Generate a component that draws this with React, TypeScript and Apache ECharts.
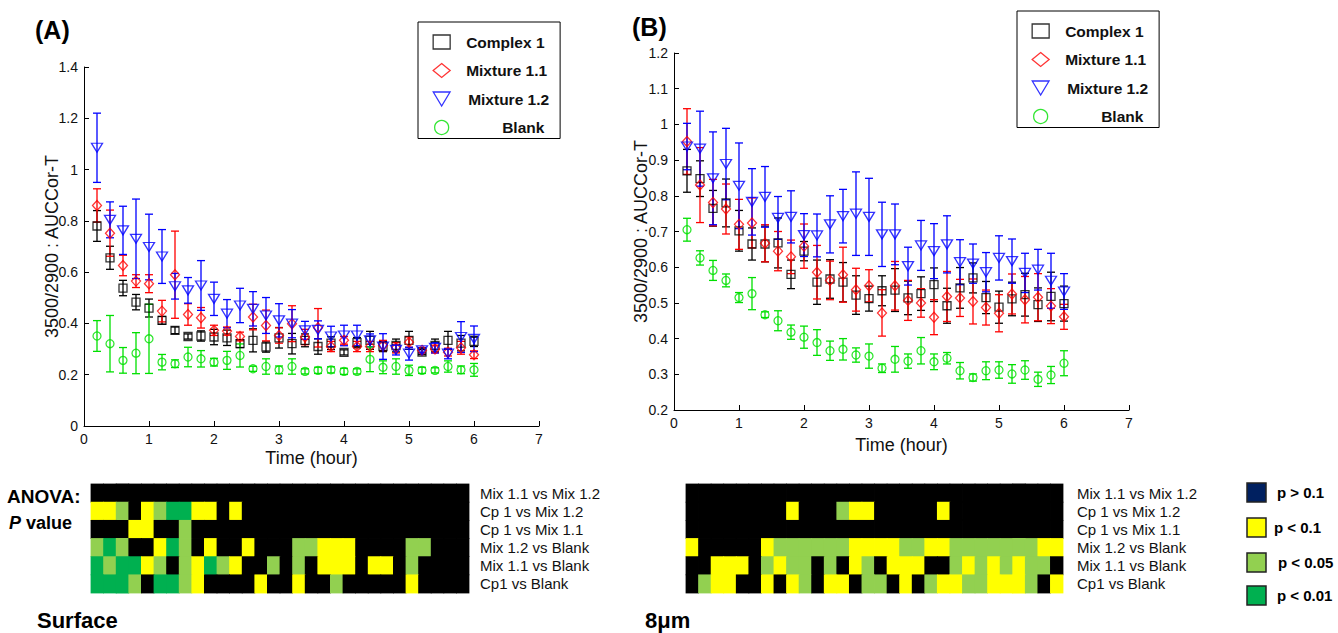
import React, { useEffect, useRef } from "react";
import * as echarts from "echarts";

const FONT = "'Liberation Sans', Arial, Helvetica, sans-serif";

const times = [0.2, 0.4, 0.6, 0.8, 1.0, 1.2, 1.4, 1.6, 1.8, 2.0, 2.2, 2.4, 2.6, 2.8, 3.0, 3.2, 3.4, 3.6, 3.8, 4.0, 4.2, 4.4, 4.6, 4.8, 5.0, 5.2, 5.4, 5.6, 5.8, 6.0];

const seriesNames = ["Complex 1", "Mixture 1.1", "Mixture 1.2", "Blank"];

// Panel A (Surface)
const aComplex = [0.78, 0.656, 0.538, 0.483, 0.46, 0.412, 0.373, 0.349, 0.351, 0.347, 0.344, 0.321, 0.334, 0.308, 0.344, 0.321, 0.334, 0.31, 0.323, 0.287, 0.325, 0.334, 0.31, 0.314, 0.334, 0.288, 0.314, 0.334, 0.323, 0.33];
const aComplexErr = [0.06, 0.045, 0.03, 0.03, 0.035, 0.015, 0.013, 0.01, 0.02, 0.03, 0.03, 0.015, 0.045, 0.02, 0.04, 0.04, 0.025, 0.03, 0.025, 0.01, 0.02, 0.035, 0.02, 0.025, 0.035, 0.01, 0.025, 0.035, 0.03, 0.02];
const aMix11 = [0.86, 0.752, 0.626, 0.565, 0.555, 0.448, 0.59, 0.435, 0.422, 0.373, 0.37, 0.349, 0.425, 0.392, 0.353, 0.399, 0.347, 0.383, 0.31, 0.334, 0.31, 0.31, 0.314, 0.305, 0.327, 0.295, 0.3, 0.288, 0.305, 0.278];
const aMix11Err = [0.065, 0.09, 0.04, 0.025, 0.035, 0.042, 0.17, 0.042, 0.04, 0.02, 0.016, 0.017, 0.05, 0.06, 0.03, 0.07, 0.03, 0.075, 0.02, 0.015, 0.02, 0.02, 0.02, 0.02, 0.02, 0.01, 0.015, 0.015, 0.025, 0.015];
const aMix12 = [1.085, 0.804, 0.763, 0.73, 0.698, 0.661, 0.545, 0.529, 0.548, 0.496, 0.438, 0.47, 0.457, 0.431, 0.412, 0.399, 0.373, 0.375, 0.349, 0.353, 0.353, 0.334, 0.31, 0.297, 0.282, 0.295, 0.305, 0.282, 0.347, 0.34];
const aMix12Err = [0.135, 0.07, 0.094, 0.155, 0.128, 0.105, 0.05, 0.05, 0.097, 0.065, 0.055, 0.067, 0.067, 0.07, 0.065, 0.055, 0.035, 0.035, 0.04, 0.04, 0.04, 0.025, 0.05, 0.02, 0.025, 0.01, 0.02, 0.02, 0.06, 0.05];
const aBlank = [0.351, 0.321, 0.256, 0.284, 0.34, 0.249, 0.243, 0.269, 0.262, 0.249, 0.256, 0.275, 0.223, 0.232, 0.219, 0.232, 0.213, 0.217, 0.219, 0.213, 0.213, 0.26, 0.229, 0.232, 0.217, 0.217, 0.217, 0.232, 0.219, 0.219];
const aBlankErr = [0.06, 0.11, 0.05, 0.08, 0.135, 0.03, 0.015, 0.038, 0.032, 0.015, 0.035, 0.045, 0.01, 0.03, 0.015, 0.03, 0.01, 0.012, 0.012, 0.012, 0.01, 0.048, 0.025, 0.03, 0.02, 0.012, 0.01, 0.022, 0.015, 0.025];

// Panel B (8 um)
const bComplex = [0.87, 0.848, 0.765, 0.78, 0.702, 0.665, 0.665, 0.668, 0.58, 0.645, 0.558, 0.567, 0.558, 0.522, 0.512, 0.534, 0.536, 0.514, 0.526, 0.551, 0.492, 0.542, 0.57, 0.515, 0.488, 0.511, 0.523, 0.495, 0.518, 0.498];
const bComplexErr = [0.06, 0.05, 0.05, 0.067, 0.057, 0.045, 0.05, 0.07, 0.04, 0.027, 0.062, 0.054, 0.055, 0.054, 0.035, 0.042, 0.06, 0.047, 0.047, 0.047, 0.049, 0.057, 0.042, 0.045, 0.045, 0.047, 0.06, 0.047, 0.068, 0.049];
const bMix11 = [0.952, 0.83, 0.781, 0.763, 0.72, 0.724, 0.667, 0.645, 0.629, 0.659, 0.586, 0.563, 0.579, 0.537, 0.548, 0.472, 0.548, 0.507, 0.5, 0.46, 0.518, 0.514, 0.504, 0.487, 0.471, 0.525, 0.509, 0.516, 0.491, 0.461];
const bMix11Err = [0.092, 0.105, 0.065, 0.07, 0.07, 0.07, 0.052, 0.055, 0.047, 0.062, 0.075, 0.054, 0.077, 0.06, 0.045, 0.065, 0.068, 0.056, 0.04, 0.049, 0.07, 0.052, 0.063, 0.049, 0.052, 0.056, 0.065, 0.066, 0.049, 0.035];
const bMix12 = [0.938, 0.932, 0.849, 0.889, 0.828, 0.783, 0.797, 0.738, 0.741, 0.69, 0.689, 0.72, 0.743, 0.75, 0.741, 0.692, 0.692, 0.603, 0.661, 0.645, 0.664, 0.614, 0.61, 0.586, 0.626, 0.617, 0.584, 0.593, 0.562, 0.532];
const bMix12Err = [0.065, 0.105, 0.13, 0.1, 0.12, 0.093, 0.085, 0.06, 0.073, 0.06, 0.06, 0.08, 0.075, 0.117, 0.108, 0.09, 0.085, 0.053, 0.07, 0.077, 0.08, 0.063, 0.055, 0.055, 0.062, 0.062, 0.055, 0.057, 0.077, 0.05];
const bBlank = [0.705, 0.626, 0.591, 0.563, 0.515, 0.526, 0.467, 0.45, 0.418, 0.404, 0.389, 0.366, 0.37, 0.354, 0.351, 0.317, 0.342, 0.337, 0.366, 0.335, 0.345, 0.31, 0.291, 0.31, 0.312, 0.301, 0.312, 0.286, 0.298, 0.331];
const bBlankErr = [0.032, 0.02, 0.028, 0.018, 0.014, 0.045, 0.008, 0.028, 0.02, 0.031, 0.036, 0.027, 0.03, 0.02, 0.034, 0.012, 0.036, 0.02, 0.037, 0.022, 0.016, 0.023, 0.01, 0.025, 0.023, 0.026, 0.026, 0.02, 0.024, 0.035];

// ANOVA heatmaps: 0 = black, 1 = p<0.1, 2 = p<0.05, 3 = p<0.01
const comparisons = ["Mix 1.1 vs Mix 1.2", "Cp 1 vs Mix 1.2", "Cp 1 vs Mix 1.1", "Mix 1.2 vs Blank", "Mix 1.1 vs Blank", "Cp1 vs Blank"];

const heatA_mix11_mix12 = [0, 0, 0, 0, 0, 0, 0, 0, 0, 0, 0, 0, 0, 0, 0, 0, 0, 0, 0, 0, 0, 0, 0, 0, 0, 0, 0, 0, 0, 0];
const heatA_cp1_mix12 = [1, 1, 2, 0, 1, 2, 3, 3, 1, 1, 0, 1, 0, 0, 0, 0, 0, 0, 0, 0, 0, 0, 0, 0, 0, 0, 0, 0, 0, 0];
const heatA_cp1_mix11 = [0, 0, 0, 1, 1, 0, 0, 2, 0, 0, 0, 0, 0, 0, 0, 0, 0, 0, 0, 0, 0, 0, 0, 0, 0, 0, 0, 0, 0, 0];
const heatA_mix12_blank = [2, 3, 2, 0, 0, 1, 3, 2, 0, 1, 0, 0, 1, 0, 0, 0, 2, 2, 1, 1, 1, 0, 0, 0, 0, 2, 2, 0, 0, 0];
const heatA_mix11_blank = [3, 2, 3, 3, 1, 2, 0, 2, 1, 3, 2, 1, 0, 0, 2, 0, 2, 0, 1, 1, 1, 0, 1, 1, 0, 2, 0, 0, 0, 0];
const heatA_cp1_blank = [3, 3, 3, 2, 0, 3, 3, 2, 1, 0, 0, 0, 0, 1, 0, 0, 1, 0, 0, 2, 0, 0, 0, 0, 0, 1, 0, 0, 0, 0];

const heatB_mix11_mix12 = [0, 0, 0, 0, 0, 0, 0, 0, 0, 0, 0, 0, 0, 0, 0, 0, 0, 0, 0, 0, 0, 0, 0, 0, 0, 0, 0, 0, 0, 0];
const heatB_cp1_mix12 = [0, 0, 0, 0, 0, 0, 0, 0, 1, 0, 0, 0, 2, 1, 1, 0, 0, 0, 0, 0, 1, 0, 0, 0, 0, 0, 0, 0, 0, 0];
const heatB_cp1_mix11 = [0, 0, 0, 0, 0, 0, 0, 0, 0, 0, 0, 0, 0, 0, 0, 0, 0, 0, 0, 0, 0, 0, 0, 0, 0, 0, 0, 0, 0, 0];
const heatB_mix12_blank = [1, 0, 0, 0, 0, 0, 1, 2, 2, 2, 2, 2, 2, 1, 1, 1, 1, 2, 2, 1, 1, 2, 2, 2, 2, 2, 2, 2, 1, 1];
const heatB_mix11_blank = [0, 0, 1, 1, 1, 0, 2, 1, 2, 2, 0, 2, 0, 1, 2, 0, 1, 1, 1, 0, 0, 2, 1, 2, 1, 2, 1, 2, 2, 0];
const heatB_cp1_blank = [0, 2, 1, 1, 0, 0, 1, 0, 1, 2, 0, 1, 1, 0, 2, 2, 0, 1, 0, 2, 1, 1, 2, 2, 1, 1, 1, 2, 0, 1];

const pLegendLabels = ["p > 0.1", "p < 0.1", "p < 0.05", "p < 0.01"];
const pLegendColors = ["#002060", "#ffff00", "#92d050", "#00b050"];

const COLORS = ["#000000", "#ff0000", "#0000ff", "#00e000"];
const SYMBOLS = ["rect", "diamond", "path://M0,0L12,0L6,10Z", "circle"];
const SIZES: any[] = [[8, 8], [9, 10], [11, 9], [8, 8]];

function errSeries(name: string, means: number[], errs: number[], color: string, axis: number) {
  return {
    type: "custom",
    name: name + " error",
    xAxisIndex: axis,
    yAxisIndex: axis,
    silent: true,
    z: 2,
    data: times.map((t, i) => [t, means[i], errs[i]]),
    renderItem: (_params: any, api: any) => {
      const x = api.value(0);
      const m = api.value(1);
      const e = api.value(2);
      const top = api.coord([x, m + e]);
      const bot = api.coord([x, m - e]);
      const cap = 4;
      const style = { stroke: color, lineWidth: 1.3 };
      return {
        type: "group",
        children: [
          { type: "line", shape: { x1: top[0], y1: top[1], x2: bot[0], y2: bot[1] }, style },
          { type: "line", shape: { x1: top[0] - cap, y1: top[1], x2: top[0] + cap, y2: top[1] }, style },
          { type: "line", shape: { x1: bot[0] - cap, y1: bot[1], x2: bot[0] + cap, y2: bot[1] }, style },
        ],
      };
    },
  };
}

function pointSeries(idx: number, means: number[], axis: number) {
  return {
    type: "scatter",
    name: seriesNames[idx],
    xAxisIndex: axis,
    yAxisIndex: axis,
    z: 3,
    symbol: SYMBOLS[idx],
    symbolSize: SIZES[idx],
    data: times.map((t, i) => [t, means[i]]),
    itemStyle: { color: "rgba(255,255,255,0)", borderColor: COLORS[idx], borderWidth: 1.3 },
  };
}

function heatData(rows: number[][]) {
  const out: number[][] = [];
  rows.forEach((row, r) => row.forEach((v, c) => out.push([c, r, v])));
  return out;
}

function heatSeries(name: string, rows: number[][], axis: number) {
  return {
    type: "custom",
    name,
    xAxisIndex: axis,
    yAxisIndex: axis,
    silent: true,
    encode: { x: 0, y: 1 },
    data: heatData(rows),
    renderItem: (_params: any, api: any) => {
      const c = api.coord([api.value(0), api.value(1)]);
      const s = api.size([1, 1]);
      return {
        type: "rect",
        shape: { x: c[0] - s[0] / 2 - 0.4, y: c[1] - s[1] / 2 - 0.4, width: s[0] + 0.8, height: s[1] + 0.8 },
        style: { fill: api.visual("color") },
      };
    },
  };
}

function makeLegend(left: number, top: number) {
  return {
    left,
    top,
    orient: "vertical",
    selectedMode: false,
    itemWidth: 17,
    itemHeight: 14,
    itemGap: 12.5,
    padding: [12, 11, 3, 14.5],
    borderColor: "#000",
    borderWidth: 1,
    itemStyle: { borderWidth: 1.3 },
    textStyle: { fontSize: 15.5, fontWeight: "bold", color: "#111", fontFamily: FONT, lineHeight: 16 },
    data: [
      { name: seriesNames[0], textStyle: { padding: [0, 0, 0, 11] } },
      { name: seriesNames[1], textStyle: { padding: [0, 0, 0, 11] } },
      { name: seriesNames[2], textStyle: { padding: [0, 0, 0, 13] } },
      { name: seriesNames[3], textStyle: { padding: [0, 0, 0, 47] } },
    ],
  };
}

function valueX(axisName: string, gap: number) {
  return {
    type: "value",
    min: 0,
    max: 7,
    interval: 1,
    name: axisName,
    nameLocation: "middle",
    nameGap: gap,
    nameMoveOverlap: false,
    nameTextStyle: { fontSize: 18, color: "#111", fontFamily: FONT },
    axisLine: { show: true, lineStyle: { color: "#000", width: 1 } },
    axisTick: { show: true, inside: true, length: 5, lineStyle: { color: "#000" } },
    axisLabel: { fontSize: 14, color: "#111", margin: 6, fontFamily: FONT },
    splitLine: { show: false },
  };
}

function valueY(min: number, max: number, interval: number, gap: number) {
  return {
    type: "value",
    min,
    max,
    interval,
    name: "3500/2900 : AUCCor-T",
    nameLocation: "middle",
    nameGap: gap,
    nameMoveOverlap: false,
    nameTextStyle: { fontSize: 18, color: "#111", fontFamily: FONT },
    axisLine: { show: true, lineStyle: { color: "#000", width: 1 } },
    axisTick: { show: true, inside: true, length: 5, lineStyle: { color: "#000" } },
    axisLabel: { fontSize: 14, color: "#111", margin: 6, fontFamily: FONT },
    splitLine: { show: false },
  };
}

function heatX() {
  return { type: "category", data: times.map(String), show: false };
}

function heatY(margin: number) {
  return {
    type: "category",
    data: comparisons,
    inverse: true,
    position: "right",
    axisLine: { show: false },
    axisTick: { show: false },
    splitLine: { show: false },
    axisLabel: { interval: 0, fontSize: 15, color: "#111", margin, fontFamily: FONT },
  };
}

export default function App() {
  const ref = useRef<HTMLDivElement>(null);

  useEffect(() => {
    if (!ref.current) return;
    const chart = echarts.init(ref.current, undefined, { renderer: "svg" });

    const aMeans = [aComplex, aMix11, aMix12, aBlank];
    const aErrs = [aComplexErr, aMix11Err, aMix12Err, aBlankErr];
    const bMeans = [bComplex, bMix11, bMix12, bBlank];
    const bErrs = [bComplexErr, bMix11Err, bMix12Err, bBlankErr];

    const series: any[] = [];
    [0, 1, 2, 3].forEach((k) => {
      series.push(errSeries(seriesNames[k], aMeans[k], aErrs[k], COLORS[k], 0));
      series.push(pointSeries(k, aMeans[k], 0));
    });
    [0, 1, 2, 3].forEach((k) => {
      series.push(errSeries(seriesNames[k], bMeans[k], bErrs[k], COLORS[k], 1));
      series.push(pointSeries(k, bMeans[k], 1));
    });
    const heatIdxA = series.length;
    series.push(
      heatSeries("ANOVA Surface", [heatA_mix11_mix12, heatA_cp1_mix12, heatA_cp1_mix11, heatA_mix12_blank, heatA_mix11_blank, heatA_cp1_blank], 2)
    );
    series.push(
      heatSeries("ANOVA 8um", [heatB_mix11_mix12, heatB_cp1_mix12, heatB_cp1_mix11, heatB_mix12_blank, heatB_mix11_blank, heatB_cp1_blank], 3)
    );

    const pLegendTop = [483, 518, 553, 586];
    const pLegendTextX = [1277, 1274, 1278, 1277];
    const graphic: any[] = [
      { type: "text", x: 35, y: 30, style: { text: "(A)", fontSize: 25, fontWeight: "bold", fill: "#000", fontFamily: FONT, verticalAlign: "middle" } },
      { type: "text", x: 632, y: 27, style: { text: "(B)", fontSize: 25, fontWeight: "bold", fill: "#000", fontFamily: FONT, verticalAlign: "middle" } },
      { type: "text", x: 7, y: 496, style: { text: "ANOVA:", fontSize: 19, fontWeight: "bold", fill: "#000", fontFamily: FONT, verticalAlign: "middle" } },
      {
        type: "text",
        x: 9,
        y: 523,
        style: {
          text: "{i|P} value",
          fontSize: 18,
          fontWeight: "bold",
          fill: "#000",
          fontFamily: FONT,
          verticalAlign: "middle",
          rich: { i: { fontStyle: "italic", fontWeight: "bold", fontSize: 18, fontFamily: FONT } },
        },
      },
      { type: "text", x: 37, y: 620, style: { text: "Surface", fontSize: 22, fontWeight: "bold", fill: "#000", fontFamily: FONT, verticalAlign: "middle" } },
      { type: "text", x: 645, y: 620, style: { text: "8μm", fontSize: 22, fontWeight: "bold", fill: "#000", fontFamily: FONT, verticalAlign: "middle" } },
    ];
    pLegendLabels.forEach((lab, i) => {
      graphic.push({
        type: "rect",
        shape: { x: 1247, y: pLegendTop[i], width: 19, height: 19 },
        style: { fill: pLegendColors[i], stroke: "#222", lineWidth: 1.5 },
      });
      graphic.push({
        type: "text",
        x: pLegendTextX[i],
        y: pLegendTop[i] + 9.5,
        style: { text: lab, fontSize: 15, fontWeight: "bold", fill: "#000", fontFamily: FONT, verticalAlign: "middle" },
      });
    });

    chart.setOption({
      animation: false,
      backgroundColor: "#ffffff",
      textStyle: { fontFamily: FONT },
      grid: [
        { left: 84, top: 67, width: 455, height: 359 },
        { left: 674, top: 53, width: 455, height: 357 },
        { left: 91, top: 484, width: 378, height: 109 },
        { left: 686, top: 484, width: 377, height: 109 },
      ],
      xAxis: [
        { ...valueX("Time (hour)", 23), gridIndex: 0 },
        { ...valueX("Time (hour)", 26), gridIndex: 1 },
        { ...heatX(), gridIndex: 2 },
        { ...heatX(), gridIndex: 3 },
      ],
      yAxis: [
        { ...valueY(0, 1.4, 0.2, 23), gridIndex: 0 },
        { ...valueY(0.2, 1.2, 0.1, 24), gridIndex: 1 },
        { ...heatY(11), gridIndex: 2 },
        { ...heatY(14), gridIndex: 3 },
      ],
      legend: [makeLegend(418, 22), makeLegend(1017, 11)],
      visualMap: {
        type: "piecewise",
        show: false,
        dimension: 2,
        seriesIndex: [heatIdxA, heatIdxA + 1],
        pieces: [
          { value: 0, color: "#000000" },
          { value: 1, color: "#ffff00" },
          { value: 2, color: "#92d050" },
          { value: 3, color: "#00b050" },
        ],
      },
      graphic,
      series,
    });

    return () => chart.dispose();
  }, []);

  return (
    <div
      ref={ref}
      style={{ position: "fixed", left: 0, top: 0, width: 1338, height: 633, background: "#fff" }}
    />
  );
}
